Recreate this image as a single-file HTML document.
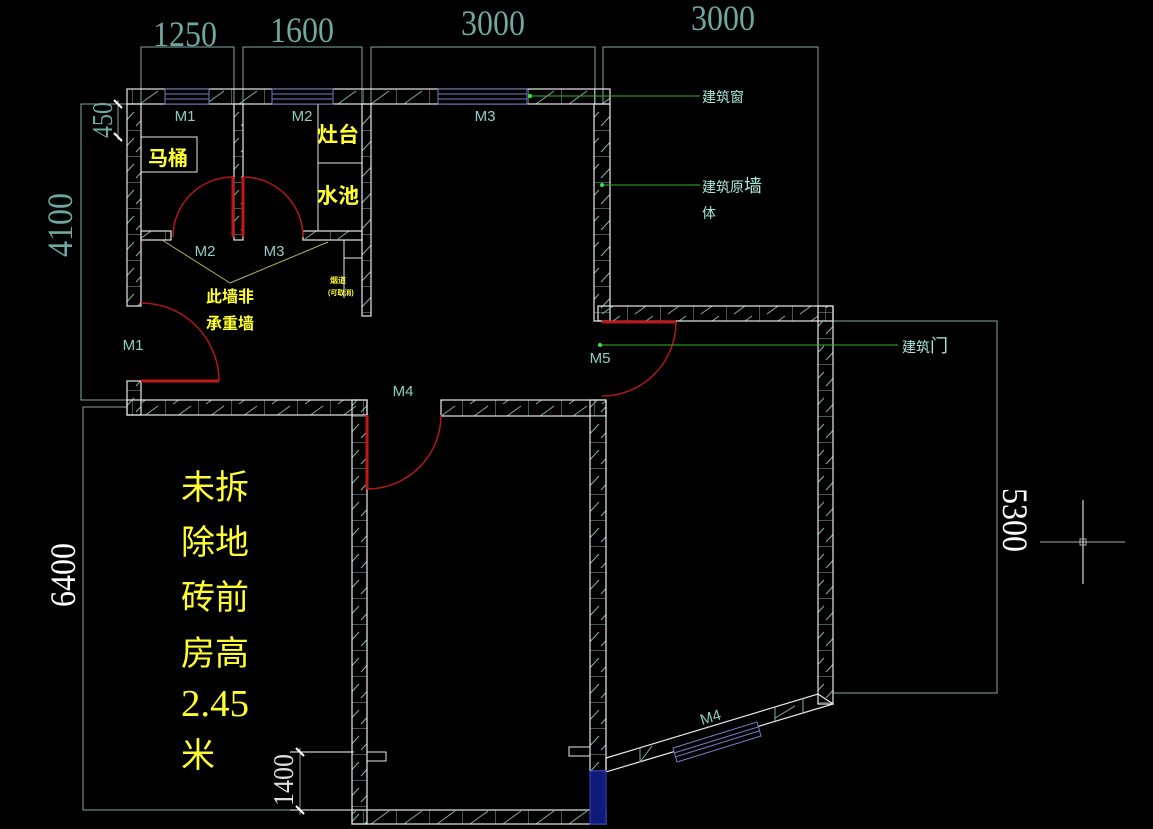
<!DOCTYPE html>
<html><head><meta charset="utf-8"><style>
html,body{margin:0;padding:0;background:#000;}
svg{display:block;}
</style></head><body>
<svg width="1153" height="829" viewBox="0 0 1153 829" xmlns="http://www.w3.org/2000/svg">
<defs>
<pattern id="hv" width="15" height="26" patternUnits="userSpaceOnUse">
<line x1="0" y1="0" x2="15" y2="0" stroke="#7fb0aa" stroke-width="1"/>
<line x1="1" y1="22" x2="14" y2="8" stroke="#7fb0aa" stroke-width="1"/>
</pattern>
<pattern id="hh" width="33" height="15" patternUnits="userSpaceOnUse">
<line x1="0" y1="0" x2="0" y2="15" stroke="#7fb0aa" stroke-width="1"/>
<line x1="8" y1="14" x2="26" y2="1" stroke="#7fb0aa" stroke-width="1"/>
</pattern>
</defs>
<rect width="1153" height="829" fill="#000"/>

<g fill="none" stroke="#7fa8a4" stroke-width="1">
<polyline points="141,104 141,47 234,47 234,104"/>
<polyline points="243,104 243,47 362,47 362,104"/>
<polyline points="371,104 371,47 595,47 595,104"/>
<polyline points="603,104 603,47 818,47 818,306"/>
<polyline points="833,321 997,321 997,693 833,693"/>
<polyline points="127,104 81,104 81,400 127,400"/>
<polyline points="127,407 83,407 83,810 352,810"/>
<line x1="118" y1="100" x2="118" y2="140"/>
<line x1="300" y1="748" x2="300" y2="815"/>
</g>
<g stroke="#fff" stroke-width="2">
<line x1="114" y1="100" x2="122" y2="108"/><line x1="114" y1="133" x2="122" y2="141"/>
<line x1="296" y1="748" x2="304" y2="756"/><line x1="296" y1="806" x2="304" y2="814"/>
</g>
<g stroke="#fff" stroke-width="1">
<line x1="290" y1="752" x2="354" y2="752"/>
<line x1="290" y1="810" x2="354" y2="810"/>
<line x1="1040" y1="542" x2="1125" y2="542" stroke="#aaa"/>
<line x1="1083" y1="500" x2="1083" y2="584"/>
<rect x="1080" y="539" width="6" height="6" fill="none" stroke="#aaa"/>
</g>

<g font-family="Liberation Serif, serif" fill="#6fa8a0" font-size="36">
<text x="185" y="46" text-anchor="middle" textLength="64" lengthAdjust="spacingAndGlyphs">1250</text>
<text x="302" y="42" text-anchor="middle" textLength="64" lengthAdjust="spacingAndGlyphs">1600</text>
<text x="493" y="35" text-anchor="middle" textLength="64" lengthAdjust="spacingAndGlyphs">3000</text>
<text x="723" y="30" text-anchor="middle" textLength="64" lengthAdjust="spacingAndGlyphs">3000</text>
<text transform="translate(72,225) rotate(-90)" text-anchor="middle" textLength="64" lengthAdjust="spacingAndGlyphs">4100</text>
<text transform="translate(112,120) rotate(-90)" text-anchor="middle" font-size="28" textLength="36" lengthAdjust="spacingAndGlyphs">450</text>
</g>
<g font-family="Liberation Serif, serif" fill="#fff" font-size="36">
<text transform="translate(75,575) rotate(-90)" text-anchor="middle" textLength="64" lengthAdjust="spacingAndGlyphs">6400</text>
<text transform="translate(1003,520) rotate(90)" text-anchor="middle" textLength="64" lengthAdjust="spacingAndGlyphs">5300</text>
<text transform="translate(293,780) rotate(-90)" text-anchor="middle" font-size="28" fill="#ddd" textLength="52" lengthAdjust="spacingAndGlyphs">1400</text>
</g>

<g stroke="#e8e8e8" stroke-width="1.2">
<rect x="127" y="89" width="483" height="15" fill="url(#hh)"/>
<rect x="127" y="104" width="14" height="202" fill="url(#hv)"/>
<rect x="127" y="381" width="14" height="34" fill="url(#hv)"/>
<rect x="127" y="400" width="240" height="15" fill="url(#hh)"/>
<rect x="234" y="104" width="9" height="136" fill="url(#hv)"/>
<rect x="362" y="104" width="9" height="212" fill="url(#hv)"/>
<rect x="141" y="231" width="30" height="9" fill="url(#hh)"/>
<rect x="303" y="231" width="59" height="9" fill="url(#hh)"/>
<rect x="594" y="104" width="16" height="217" fill="url(#hv)"/>
<rect x="598" y="306" width="235" height="15" fill="url(#hh)"/>
<rect x="818" y="306" width="15" height="398" fill="url(#hv)"/>
<rect x="352" y="400" width="15" height="424" fill="url(#hv)"/>
<rect x="441" y="400" width="165" height="16" fill="url(#hh)"/>
<rect x="590" y="400" width="16" height="371" fill="url(#hv)"/>
<rect x="352" y="810" width="254" height="14" fill="url(#hh)"/>
<polygon points="606,758 818,694 833,704 606,772" fill="none"/>
</g>
<g stroke="#7fb0aa" stroke-width="1">
<line x1="640" y1="762" x2="652" y2="746"/><line x1="640" y1="748" x2="640" y2="762"/>
<line x1="775" y1="718" x2="795" y2="706"/><line x1="775" y1="707" x2="775" y2="721"/>
<line x1="803" y1="698" x2="803" y2="712"/>
</g>
<rect x="590" y="771" width="16" height="53" fill="#101a7a" stroke="#3344cc"/>
<g stroke="#e8e8e8" fill="none" stroke-width="1">
<rect x="141" y="137" width="56" height="35"/>
<rect x="318" y="104" width="44" height="59"/>
<rect x="318" y="163" width="44" height="68"/>
<polyline points="344,240 344,298"/><line x1="344" y1="258" x2="362" y2="258"/>
<rect x="367" y="752" width="19" height="9"/>
<rect x="569" y="747" width="21" height="9"/>
</g>
<g stroke="#6f7fc0" stroke-width="1" fill="#000">
<rect x="165" y="89" width="44" height="15"/><line x1="165" y1="94" x2="209" y2="94"/><line x1="165" y1="99" x2="209" y2="99"/>
<rect x="272" y="89" width="61" height="15"/><line x1="272" y1="94" x2="333" y2="94"/><line x1="272" y1="99" x2="333" y2="99"/>
<rect x="438" y="89" width="89" height="15"/><line x1="438" y1="94" x2="527" y2="94"/><line x1="438" y1="99" x2="527" y2="99"/>
<polygon points="673,748 757,722 761,736 677,762"/>
<line x1="674" y1="753" x2="758" y2="727"/><line x1="675" y1="757" x2="759" y2="731"/>
</g>

<g stroke="#c01818" stroke-width="3" fill="none">
<line x1="233" y1="177" x2="233" y2="237"/>
<line x1="243" y1="177" x2="243" y2="237"/>
<line x1="141" y1="381" x2="219" y2="381"/>
<line x1="367" y1="415" x2="367" y2="489"/>
<line x1="602" y1="322" x2="676" y2="322"/>
</g>
<g stroke="#b01818" stroke-width="1.5" fill="none">
<path d="M233 177 A60 60 0 0 0 173 237"/>
<path d="M243 177 A60 60 0 0 1 303 237"/>
<path d="M219 381 A78 78 0 0 0 141 303"/>
<path d="M367 489 A74 74 0 0 0 441 415"/>
<path d="M676 322 A74 74 0 0 1 602 396"/>
</g>

<g stroke="#2fb52f" stroke-width="1">
<line x1="530" y1="96" x2="700" y2="96"/>
<line x1="602" y1="185" x2="700" y2="185"/>
<line x1="600" y1="345" x2="898" y2="345"/>
</g>
<g fill="#3ee03e"><circle cx="530" cy="96" r="2"/><circle cx="602" cy="185" r="2"/><circle cx="600" cy="345" r="2"/></g>
<g stroke="#b8b060" stroke-width="1">
<line x1="162" y1="240" x2="230" y2="283"/>
<line x1="328" y1="242" x2="230" y2="283"/>
</g>

<g font-family="Liberation Sans, sans-serif" fill="#8ccfc4" font-size="15">
<text x="185" y="121" text-anchor="middle">M1</text>
<text x="302" y="121" text-anchor="middle">M2</text>
<text x="485" y="121" text-anchor="middle">M3</text>
<text x="205" y="256" text-anchor="middle">M2</text>
<text x="274" y="256" text-anchor="middle">M3</text>
<text x="133" y="350" text-anchor="middle">M1</text>
<text x="403" y="396" text-anchor="middle">M4</text>
<text x="600" y="363" text-anchor="middle">M5</text>
<text transform="translate(712,722) rotate(-17)" text-anchor="middle">M4</text>
</g>
<g font-family="Liberation Sans, 'Noto Sans CJK SC', sans-serif" fill="#a8e8dc" font-size="14">
<text x="702" y="102">建筑窗</text>
<text x="702" y="192">建筑原<tspan font-size="18">墙</tspan></text>
<text x="702" y="218">体</text>
<text x="902" y="352">建筑<tspan font-size="18">门</tspan></text>
</g>
<g font-family="Liberation Sans, 'Noto Sans CJK SC', sans-serif" fill="#ffff30" font-weight="bold">
<text x="148" y="165" font-size="20">马桶</text>
<text x="317" y="142" font-size="21">灶台</text>
<text x="317" y="203" font-size="21">水池</text>
<text x="230" y="302" font-size="16" text-anchor="middle">此墙非</text>
<text x="230" y="329" font-size="16" text-anchor="middle">承重墙</text>
<text x="330" y="283" font-size="8">烟道</text>
<text x="328" y="295" font-size="7">(可取消)</text>
</g>
<g font-family="'Noto Sans CJK SC', sans-serif" fill="#ffff30" font-size="34">
<text x="181" y="499">未拆</text>
<text x="181" y="554">除地</text>
<text x="181" y="609">砖前</text>
<text x="181" y="665">房高</text>
<text x="181" y="767">米</text>
</g>
<text x="181" y="716" font-family="Liberation Serif, serif" fill="#ffff30" font-size="38" textLength="68" lengthAdjust="spacingAndGlyphs">2.45</text>
</svg>
</body></html>
